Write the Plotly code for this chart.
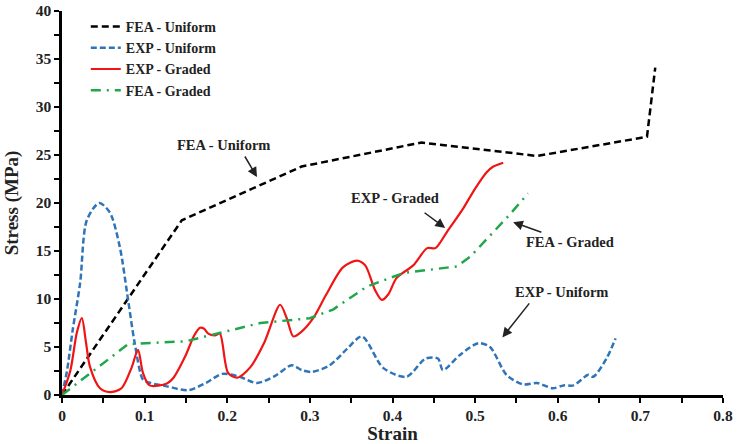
import plotly.graph_objects as go

# FEA - Uniform
fea_u_x = [0, 0.145, 0.29, 0.435, 0.575, 0.708, 0.718]
fea_u_y = [0, 18.2, 23.8, 26.3, 24.9, 26.9, 34.1]

# EXP - Uniform
exp_u_x = [0, 0.006, 0.013, 0.022, 0.03, 0.045, 0.058, 0.07, 0.08, 0.088, 0.098, 0.105,
           0.127, 0.153, 0.175, 0.194, 0.215, 0.236, 0.258, 0.278, 0.29, 0.302, 0.324,
           0.345, 0.363, 0.389, 0.417, 0.44, 0.455, 0.461, 0.482, 0.504, 0.518, 0.538,
           0.558, 0.575, 0.594, 0.607, 0.619, 0.637, 0.643, 0.659, 0.67]
exp_u_y = [0, 2.5, 6.8, 11.7, 18.2, 20.0, 19.0, 15.4, 9.9, 5.4, 1.6, 1.3,
           0.9, 0.5, 1.3, 2.2, 1.9, 1.25, 2.0, 3.1, 2.6, 2.4, 3.1,
           4.8, 6.1, 2.8, 1.9, 3.8, 3.8, 2.6, 4.2, 5.4, 5.0, 2.1,
           1.1, 1.25, 0.7, 1.0, 1.0, 2.1, 1.9, 3.8, 5.9]

# EXP - Graded
exp_g_x = [0, 0.01, 0.018, 0.024, 0.029, 0.034, 0.046, 0.058, 0.072, 0.084, 0.092, 0.098,
           0.106, 0.127, 0.135, 0.149, 0.16, 0.167, 0.172, 0.177, 0.185, 0.191, 0.201,
           0.212, 0.228, 0.245, 0.264, 0.272, 0.28, 0.29, 0.304, 0.32, 0.34, 0.357,
           0.367, 0.379, 0.387, 0.395, 0.405, 0.425, 0.442, 0.452, 0.466, 0.486, 0.5,
           0.514, 0.522, 0.534]
exp_g_y = [0, 2.5, 6.5, 8.0, 5.5, 2.9, 0.7, 0.3, 0.7, 2.8, 4.7, 2.3,
           1.0, 1.2, 1.8, 4.0, 6.2, 7.0, 6.9, 6.4, 6.2, 6.4, 2.3,
           1.8, 2.9, 5.5, 9.4, 8.0, 6.1, 6.6, 8.0, 10.5, 13.3, 14.0,
           13.5, 10.9, 9.9, 10.5, 12.2, 13.5, 15.3, 15.3, 17.0, 19.5, 21.5,
           23.2, 23.8, 24.2]

# FEA - Graded
fea_g_x = [0, 0.08, 0.15, 0.24, 0.3, 0.328, 0.369, 0.413, 0.478, 0.494, 0.542, 0.564]
fea_g_y = [0, 5.3, 5.6, 7.5, 8.0, 8.9, 11.3, 12.7, 13.4, 14.4, 18.8, 21.0]

x_ticks = [0, 0.1, 0.2, 0.3, 0.4, 0.5, 0.6, 0.7, 0.8]
x_tick_labels = ["0", "0.1", "0.2", "0.3", "0.4", "0.5", "0.6", "0.7", "0.8"]
y_ticks = [0, 5, 10, 15, 20, 25, 30, 35, 40]

FONT = "Liberation Serif"

fig = go.Figure()
fig.add_trace(go.Scatter(x=fea_u_x, y=fea_u_y, mode="lines", name="FEA - Uniform",
                         line=dict(color="black", width=2.5, dash="7px,4px")))
fig.add_trace(go.Scatter(x=exp_u_x, y=exp_u_y, mode="lines", name="EXP - Uniform",
                         line=dict(color="#2F74B9", width=2.5, dash="6px,3px", shape="spline", smoothing=0.8)))
fig.add_trace(go.Scatter(x=exp_g_x, y=exp_g_y, mode="lines", name="EXP - Graded",
                         line=dict(color="#F01414", width=2.2, shape="spline", smoothing=0.8)))
fig.add_trace(go.Scatter(x=fea_g_x, y=fea_g_y, mode="lines", name="FEA - Graded",
                         line=dict(color="#21A64B", width=2.5, dash="10px,6px,2px,6px")))

# text labels
labels = [
    ("FEA - Uniform", 0.195, 26.0),
    ("EXP - Graded", 0.403, 20.5),
    ("FEA - Graded", 0.615, 15.9),
    ("EXP - Uniform", 0.605, 10.7),
]
for t, lx, ly in labels:
    fig.add_annotation(x=lx, y=ly, text=t, showarrow=False,
                       font=dict(family=FONT, size=14.5, color="#222", weight="bold"))

# arrows (head, tail)
arrows = [
    (0.236, 22.7, 0.2203, 25.0),
    (0.4637, 17.4, 0.437, 19.1),
    (0.546, 18.0, 0.582, 16.9),
    (0.533, 6.0, 0.567, 9.7),
]
for hx, hy, tx, ty in arrows:
    fig.add_annotation(x=hx, y=hy, ax=tx, ay=ty, axref="x", ayref="y", text="",
                       showarrow=True, arrowhead=2, arrowsize=1.3, arrowwidth=1.5,
                       arrowcolor="#222")

fig.update_layout(
    width=737, height=444,
    margin=dict(l=62, r=14, t=11, b=49),
    paper_bgcolor="white", plot_bgcolor="white",
    font=dict(family=FONT, size=15, color="#222", weight="bold"),
    showlegend=True,
    legend=dict(x=0.036, y=1.0, xanchor="left", yanchor="top",
                bgcolor="rgba(0,0,0,0)", font=dict(family=FONT, size=14, weight="bold"),
                tracegroupgap=0, itemwidth=30),
)
fig.update_xaxes(range=[0, 0.8], tickvals=x_ticks, ticktext=x_tick_labels,
                 showline=True, linecolor="black", linewidth=2.5,
                 ticks="outside", ticklen=5, tickwidth=2, tickcolor="black",
                 minor=dict(dtick=0.05, ticks="outside", ticklen=5, tickwidth=2, tickcolor="black"),
                 showgrid=False, zeroline=False, automargin=False,
                 tickfont=dict(family=FONT, size=15.5, weight="bold"),
                 title=dict(text="Strain", font=dict(family=FONT, size=19, weight="bold"), standoff=4))
fig.update_yaxes(range=[0, 40], tickvals=y_ticks,
                 showline=True, linecolor="black", linewidth=2.5,
                 ticks="outside", ticklen=5, tickwidth=2, tickcolor="black",
                 minor=dict(dtick=2.5, ticks="outside", ticklen=5, tickwidth=2, tickcolor="black"),
                 showgrid=False, zeroline=False, automargin=False,
                 tickfont=dict(family=FONT, size=15.5, weight="bold"),
                 title=dict(text="Stress (MPa)", font=dict(family=FONT, size=19, weight="bold"), standoff=13))

fig.write_html("out.html", config={"displayModeBar": False},
               post_script="document.body.style.margin='0';")
